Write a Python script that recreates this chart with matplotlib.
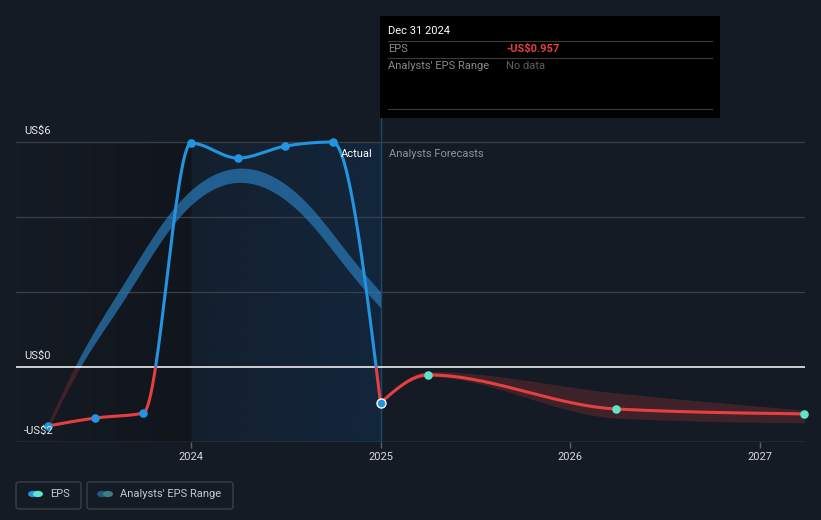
import numpy as np
import matplotlib
matplotlib.use("Agg")
import matplotlib.pyplot as plt
from matplotlib.patches import Rectangle, FancyBboxPatch, Circle

plt.rcParams['font.family'] = ['Roboto', 'DejaVu Sans']

# actual EPS (decimal year, US$)
actual_dates = [2023.247, 2023.496, 2023.748, 2024.0, 2024.247, 2024.496, 2024.748, 2025.0]
actual_eps = [-1.57, -1.36, -1.23, 5.97, 5.57, 5.89, 6.0, -0.957]

# analysts' past estimate range (thick arc)
past_range_dates = [2023.247, 2023.40, 2023.64, 2023.90, 2024.24, 2024.63, 2024.85, 2025.0]
past_range_low = [-1.66, -0.14, 1.75, 3.76, 4.92, 3.83, 2.45, 1.58]
past_range_high = [-1.48, 0.14, 2.19, 4.18, 5.30, 4.27, 2.89, 2.00]

# forecasts
fc_dates = [2025.0, 2025.25, 2026.245, 2027.237]
fc_eps = [-0.957, -0.21, -1.12, -1.25]
fc_low = [-0.957, -0.26, -1.36, -1.49]
fc_high = [-0.957, -0.12, -0.69, -1.15]

y_ticks = [6, 0, -2]
y_tick_labels = ["US$6", "US$0", "-US$2"]
x_ticks = [2024, 2025, 2026, 2027]

BG = '#151b24'
BLUE = '#2394df'
RED = '#e5403f'
TEAL = '#5fe3c9'
W, H = 821, 520


def monotone(x, y, n=80):
    x = np.asarray(x, float)
    y = np.asarray(y, float)
    h = np.diff(x)
    s = np.diff(y) / h
    m = np.zeros_like(y)
    for k in range(1, len(x) - 1):
        if s[k - 1] * s[k] <= 0:
            m[k] = 0
        else:
            p = (s[k - 1] * h[k] + s[k] * h[k - 1]) / (h[k - 1] + h[k])
            m[k] = (np.sign(s[k - 1]) + np.sign(s[k])) * min(abs(s[k - 1]), abs(s[k]), 0.5 * abs(p))
    m[0] = (3 * s[0] - m[1]) / 2 if len(x) > 2 else s[0]
    m[-1] = (3 * s[-1] - m[-2]) / 2 if len(x) > 2 else s[-1]
    xs, ys = [], []
    for k in range(len(x) - 1):
        t = np.linspace(0, 1, n)
        h00 = 2 * t**3 - 3 * t**2 + 1
        h10 = t**3 - 2 * t**2 + t
        h01 = -2 * t**3 + 3 * t**2
        h11 = t**3 - t**2
        xs.append(x[k] + t * h[k])
        ys.append(h00 * y[k] + h10 * h[k] * m[k] + h01 * y[k + 1] + h11 * h[k] * m[k + 1])
    return np.concatenate(xs), np.concatenate(ys)


def natural(x, y, n=400):
    # natural cubic spline
    x = np.asarray(x, float)
    y = np.asarray(y, float)
    N = len(x)
    h = np.diff(x)
    A = np.zeros((N, N))
    r = np.zeros(N)
    A[0, 0] = A[-1, -1] = 1
    for i in range(1, N - 1):
        A[i, i - 1] = h[i - 1]
        A[i, i] = 2 * (h[i - 1] + h[i])
        A[i, i + 1] = h[i]
        r[i] = 6 * ((y[i + 1] - y[i]) / h[i] - (y[i] - y[i - 1]) / h[i - 1])
    M = np.linalg.solve(A, r)
    xs = np.linspace(x[0], x[-1], n)
    k = np.clip(np.searchsorted(x, xs) - 1, 0, N - 2)
    a = x[k + 1] - xs
    b = xs - x[k]
    hk = h[k]
    ys = (M[k] * a**3 / (6 * hk) + M[k + 1] * b**3 / (6 * hk)
          + (y[k] / hk - M[k] * hk / 6) * a + (y[k + 1] / hk - M[k + 1] * hk / 6) * b)
    return xs, ys


fig = plt.figure(figsize=(W / 100, H / 100), dpi=100, facecolor=BG)
ax = fig.add_axes([16 / W, 78 / H, 789 / W, 427 / H])
ax.set_facecolor(BG)
x0, x1 = 2023.0765, 2027.24
y0, y1 = -2, 9.387

# shaded regions
g = np.linspace(0, 1, 400)
left = np.zeros((1, 400, 4))
left[..., 3] = 0.2 * g
ax.imshow(left, extent=[x0, 2024.0, -2, 6], aspect='auto', zorder=0.5, interpolation='bicubic')
mid = np.zeros((1, 400, 4))
mid[..., 0], mid[..., 1], mid[..., 2] = 16 / 255, 52 / 255, 90 / 255
mid[..., 3] = 0.18 + 0.27 * g
ax.imshow(mid, extent=[2024.0, 2025.0, -2, 6], aspect='auto', zorder=0.5, interpolation='bicubic')

# grid
for yv in [6, 4, 2]:
    ax.axhline(yv, color='#3a404a', lw=0.9, zorder=1)
ax.axhline(0, color='white', lw=1.1, zorder=3)
ax.axhline(-2, color='#5a606a', lw=1.0, zorder=3)
ax.plot([2025.0, 2025.0], [-2, (442 - 118) / 37.5 - 2], color='#1d4868', lw=1.0, zorder=1.5)

above = Rectangle((x0 - 1, 0), 10, 50, transform=ax.transData)
below = Rectangle((x0 - 1, -50), 10, 50, transform=ax.transData)

# past range arc
bx, bl = natural(past_range_dates, past_range_low)
_, bh = natural(past_range_dates, past_range_high)
f1 = ax.fill_between(bx, bl, bh, color='#2a7dbd', alpha=0.68, lw=0, zorder=2)
f1.set_clip_path(above)
f2 = ax.fill_between(bx, bl, bh, color='#e5403f', alpha=0.22, lw=0, zorder=2)
f2.set_clip_path(below)

# forecast range
fx, fl = monotone(fc_dates, fc_low)
_, fh = monotone(fc_dates, fc_high)
ax.fill_between(fx, fl, fh, color='#e5403f', alpha=0.2, lw=0, zorder=2)

# EPS lines
lx, ly = monotone(actual_dates, actual_eps)
la, = ax.plot(lx, ly, color=BLUE, lw=2.2, zorder=4, solid_capstyle='round')
la.set_clip_path(above)
lb, = ax.plot(lx, ly, color=RED, lw=2.2, zorder=4, solid_capstyle='round')
lb.set_clip_path(below)
fxl, fyl = monotone(fc_dates, fc_eps)
ax.plot(fxl, fyl, color=RED, lw=2.2, zorder=4, solid_capstyle='round')

ax.scatter(actual_dates[:-1], actual_eps[:-1], s=38, color=BLUE, zorder=5, lw=0)
ax.scatter(actual_dates[-1:], actual_eps[-1:], s=42, color=BLUE, edgecolor='white', lw=1.0, zorder=6)
ax.scatter(fc_dates[1:], fc_eps[1:], s=38, color=TEAL, zorder=5, lw=0, clip_on=False)

ax.set_xlim(x0, x1)
ax.set_ylim(y0, y1)
for s in ax.spines.values():
    s.set_visible(False)
ax.set_yticks([])
ax.set_xticks(x_ticks)
ax.set_xticklabels([str(t) for t in x_ticks])
ax.tick_params(axis='x', colors='#5a606a', length=4, width=1, labelcolor='#d6d9de', labelsize=8, pad=3)

for yv, lab in zip(y_ticks, y_tick_labels):
    ax.text(x0 + 8 / 189.5, yv + 0.16, lab, color='#e8eaed', fontsize=8, va='bottom', ha='left', zorder=6)

ax.text(2025.0 - 8 / 189.5, 6 - 12 / 37.5, "Actual", color='white', fontsize=8, ha='right', va='center', zorder=6)
ax.text(2025.0 + 8 / 189.5, 6 - 12 / 37.5, "Analysts Forecasts", color='#8e949c', fontsize=8, ha='left', va='center', zorder=6)


def fx_(px):
    return px / W


def fy_(py):
    return 1 - py / H


# tooltip
fig.add_artist(Rectangle((fx_(380), fy_(118)), 340 / W, 102 / H, transform=fig.transFigure,
                         facecolor='black', edgecolor='none', zorder=10))
for yy in [41, 58, 109]:
    fig.add_artist(plt.Line2D([fx_(388), fx_(712)], [fy_(yy), fy_(yy)], transform=fig.transFigure,
                              color='#3c3c3c', lw=0.8, zorder=11))
fig.text(fx_(388), fy_(31), "Dec 31 2024", color='white', fontsize=8, va='center', zorder=12)
fig.text(fx_(388), fy_(49), "EPS", color='#8a8a8a', fontsize=8, va='center', zorder=12)
fig.text(fx_(506), fy_(49), "-US$0.957", color='#e5403f', fontsize=8, va='center', fontweight='bold', zorder=12)
fig.text(fx_(388), fy_(66), "Analysts' EPS Range", color='#8a8a8a', fontsize=8, va='center', zorder=12)
fig.text(fx_(506), fy_(66), "No data", color='#5e5e5e', fontsize=8, va='center', zorder=12)

# legend
for bx0, bx1 in [(16, 81), (87, 233)]:
    fig.add_artist(FancyBboxPatch((fx_(bx0), fy_(509)), (bx1 - bx0) / W, 27 / H, transform=fig.transFigure,
                                  boxstyle='round,pad=0,rounding_size=0.004', facecolor='none',
                                  edgecolor='#3d434d', lw=0.9))


def dot(px, py, color):
    fig.add_artist(Circle((fx_(px), fy_(py)), 5 / W, transform=fig.transFigure, facecolor=color,
                          edgecolor='none'))


dot(33, 494, BLUE)
dot(38, 494, TEAL)
dot(102, 494, '#1e5a8a')
dot(108, 494, '#3c7f7d')
fig.text(fx_(50), fy_(494), "EPS", color='#c4c8ce', fontsize=8, va='center')
fig.text(fx_(120), fy_(494), "Analysts' EPS Range", color='#c4c8ce', fontsize=8, va='center')

fig.savefig('out.png', dpi=100, facecolor=BG)
